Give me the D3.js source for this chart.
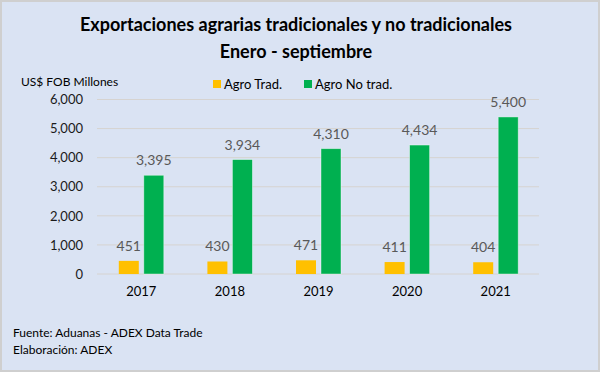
<!DOCTYPE html>
<html><head><meta charset="utf-8">
<script src="https://cdn.jsdelivr.net/npm/d3@7"></script>
<style>body{margin:0;background:#fff}svg{display:block}text{font-family:Lato,"Open Sans",sans-serif}</style>
</head><body>
<svg id="c" width="600" height="372"></svg>
<script>
const years = ["2017","2018","2019","2020","2021"];
const agroTrad = [451, 430, 471, 411, 404];
const agroNoTrad = [3395, 3934, 4310, 4434, 5400];
const seriesNames = ["Agro Trad.", "Agro No trad."];
const seriesColors = ["#ffc000", "#00b050"];
const yTicks = [0, 1000, 2000, 3000, 4000, 5000, 6000];

const svg = d3.select("#c");
svg.append("rect").attr("x",1).attr("y",1).attr("width",598).attr("height",370)
  .attr("fill","#dae3f3").attr("stroke","#cfcfcf").attr("stroke-width",2);

svg.append("text").attr("x",296).attr("y",31).attr("text-anchor","middle")
  .attr("font-size",18).attr("font-weight","bold").attr("fill","#000")
  .text("Exportaciones agrarias tradicionales y no tradicionales");
svg.append("text").attr("x",296).attr("y",58).attr("text-anchor","middle")
  .attr("font-size",18).attr("font-weight","bold").attr("fill","#000")
  .text("Enero - septiembre");

svg.append("text").attr("x",21).attr("y",86).attr("font-size",12).attr("fill","#000")
  .text("US$ FOB Millones");

const x = d3.scaleBand().domain(years).range([97,540]);
const y = d3.scaleLinear().domain([0,6000]).range([274,99.5]);

svg.append("g").selectAll("line").data(yTicks).join("line")
  .attr("x1",97).attr("x2",539).attr("y1",d=>y(d)).attr("y2",d=>y(d))
  .attr("stroke","#d6d3d0").attr("stroke-width",1);

const yAxis = svg.append("g").attr("transform","translate(97,0)")
  .call(d3.axisLeft(y).tickValues(yTicks).tickFormat(d3.format(",")).tickSize(0).tickPadding(14));
yAxis.select(".domain").remove();
yAxis.selectAll("text").attr("font-size",13).attr("fill","#1a1a1a").attr("font-family","Lato").attr("font-weight",400);

const xAxis = svg.append("g").attr("transform","translate(0,274)")
  .call(d3.axisBottom(x).tickSize(0).tickPadding(13));
xAxis.select(".domain").remove();
xAxis.selectAll("text").attr("font-size",13).attr("fill","#000").attr("font-family","Lato").attr("font-weight",400);

const barW = 20, gap = 5;
const series = [agroTrad, agroNoTrad];
series.forEach((vals, si) => {
  const off = si === 0 ? -(barW + gap/2) : gap/2;
  svg.append("g").selectAll("rect").data(years).join("rect")
    .attr("x", (d)=> x(d) + x.bandwidth()/2 + off)
    .attr("y", (d,i)=> y(vals[i]))
    .attr("width", barW)
    .attr("height", (d,i)=> y(0) - y(vals[i]))
    .attr("fill", seriesColors[si])
    .attr("stroke", si === 1 ? "rgba(255,255,255,0.5)" : "none").attr("stroke-width",0.8);
  svg.append("g").selectAll("text").data(years).join("text")
    .attr("x", (d)=> x(d) + x.bandwidth()/2 + off + barW/2)
    .attr("y", (d,i)=> y(vals[i]) - 10)
    .attr("text-anchor","middle").attr("font-size",14).attr("fill","#595959")
    .text((d,i)=> d3.format(",")(vals[i]));
});

const legX = [213, 304];
seriesNames.forEach((n,i)=>{
  svg.append("rect").attr("x",legX[i]).attr("y",80).attr("width",8).attr("height",8).attr("fill",seriesColors[i]);
  svg.append("text").attr("x",legX[i]+11).attr("y",88.5).attr("font-size",13).attr("fill","#000").text(n);
});

svg.append("text").attr("x",13).attr("y",337).attr("font-size",12).attr("fill","#000")
  .text("Fuente: Aduanas - ADEX Data Trade");
svg.append("text").attr("x",13).attr("y",354).attr("font-size",12).attr("fill","#000")
  .text("Elaboración: ADEX");
</script>
</body></html>
